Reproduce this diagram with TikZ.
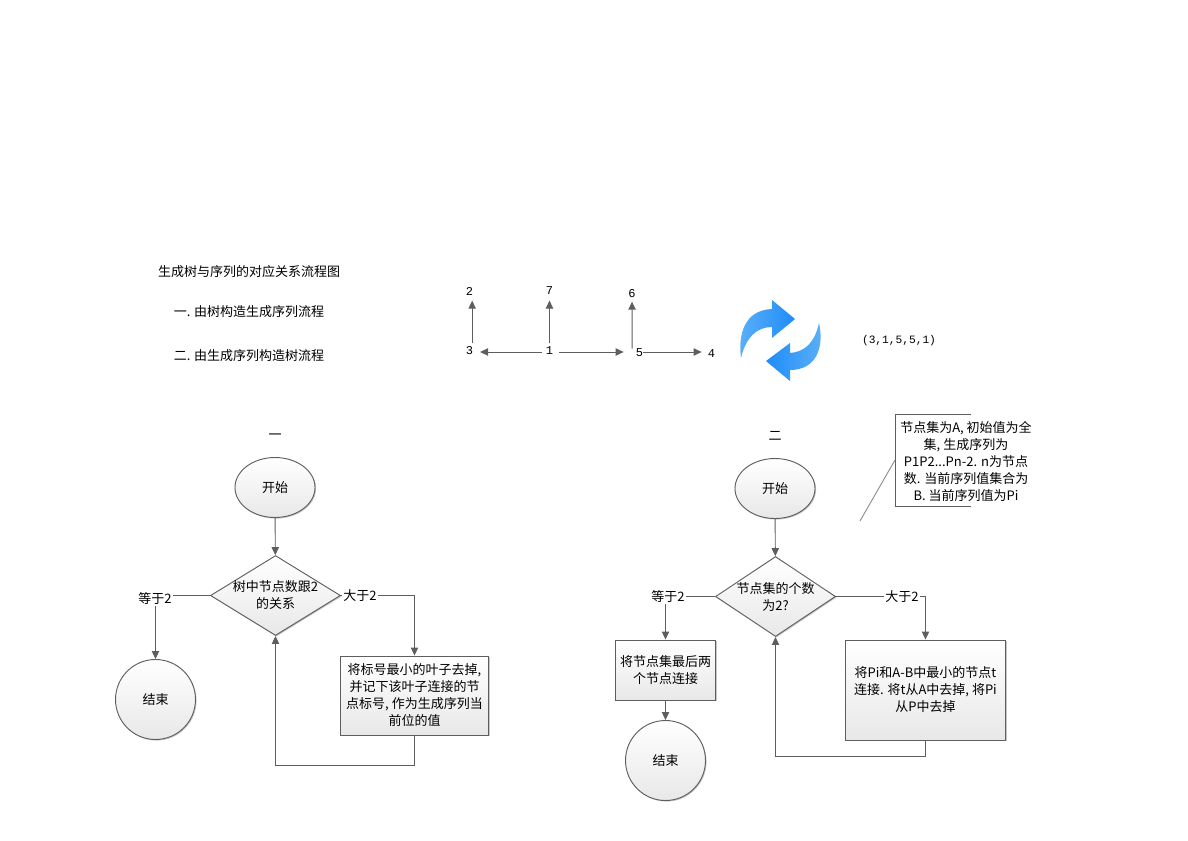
\documentclass[tikz,border=0pt]{standalone}
\usepackage{fontspec}
\setmainfont{Noto Sans CJK SC}
\setmonofont{Liberation Mono}
\definecolor{flowLine}{HTML}{5E5E5E}
\definecolor{flowShade}{HTML}{E8E8E8}
\definecolor{refreshDeep}{HTML}{1E8CFA}
\definecolor{refreshPale}{HTML}{5CB0F6}
\usetikzlibrary{arrows.meta}
\usetikzlibrary{shapes.geometric}
\usetikzlibrary{shadows}
\tikzset{
  plaintext/.style={inner sep=0pt, font=\fontsize{9.75}{12.75}\selectfont, align=center},
  treenum/.style={inner sep=1pt, font=\ttfamily\fontsize{9}{10}\selectfont},
  flowshape/.style={plaintext, draw=flowLine, line width=0.7pt, top color=white, bottom color=flowShade,
    general shadow={shadow xshift=0.8pt, shadow yshift=-0.8pt, fill=black!22}},
  terminal/.style={flowshape, ellipse, minimum width=60pt, minimum height=45pt},
  decision/.style={flowshape, diamond, aspect=1.5},
  process/.style={flowshape, rectangle},
  edgelabel/.style={plaintext, fill=white, inner xsep=1pt, inner ysep=1pt},
  flow/.style={draw=flowLine, line width=0.7pt, -{Triangle[length=6pt, width=5.5pt]}},
  link/.style={draw=flowLine, line width=0.7pt},
}
\begin{document}
\begin{tikzpicture}[x=0.75pt, y=-0.75pt]
  \useasboundingbox (0,0) rectangle (1188,840);

  % headings
  \node[plaintext] (title) at (249,271.5) {生成树与序列的对应关系流程图};
  \node[plaintext] (firstline) at (249,311.5) {一. 由树构造生成序列流程};
  \node[plaintext] (secondline) at (249,355.5) {二. 由生成序列构造树流程};
  \node[plaintext] (markone) at (275,437) {一};
  \node[plaintext] (marktwo) at (775,436) {二};

  % the tree
  \node[treenum] (n2) at (469.5,291) {2};
  \node[treenum] (n7) at (549.5,291) {7};
  \node[treenum] (n6) at (632,294) {6};
  \node[treenum] (n3) at (469.5,351) {3};
  \node[treenum] (n1) at (549.5,351) {1};
  \node[treenum] (n5) at (639.5,353) {5};
  \node[treenum] (n4) at (711.5,354) {4};
  \coordinate (treerow) at (0,352);
  \draw[flow] ([xshift=2pt, yshift=1.5pt]n3.north) -- ([xshift=2pt, yshift=-3pt]n2.south);
  \draw[flow] ([yshift=1.5pt]n1.north) -- ([yshift=-3pt]n7.south);
  \draw[flow] ([xshift=-5.5pt, yshift=-1pt]n5.north) -- ([yshift=-1.5pt]n6.south);
  \draw[flow] ([xshift=-2pt]n1.west |- treerow) -- ([xshift=4pt]n3.east |- treerow);
  \draw[flow] ([xshift=3pt]n1.east |- treerow) -- ([xshift=-8pt]n5.west |- treerow);
  \draw[flow] ([xshift=-1pt]n5.east |- treerow) -- ([xshift=-3.5pt]n4.west |- treerow);

  % the two turning arrows
  \path[left color=refreshPale, right color=refreshDeep] (741,358) .. controls (738,335) and (744,310) .. (772,309)
    -- (772,300) -- (795,319) -- (772,338) -- (772,327) .. controls (757,327) and (746,337) .. cycle;
  \path[left color=refreshDeep, right color=refreshPale] (819,323) .. controls (824,345) and (818,370) .. (790,370)
    -- (790,381) -- (766,361) -- (790,343) -- (790,353) .. controls (805,352) and (815,342) .. cycle;
  \node[treenum, font=\ttfamily\fontsize{8.4}{10}\selectfont] (sequence) at (899,341) {(3,1,5,5,1)};

  % flow one
  \node[terminal] (start1) at (275,487.5) {开始};
  \node[decision, minimum width=97.5pt, minimum height=60pt, label={[plaintext]center:树中节点数跟2\\的关系}] (test1) at (275.5,595.5) {};
  \node[terminal, circle, minimum size=60pt] (end1) at (155.5,699.5) {结束};
  \node[process, minimum width=111pt, minimum height=59.25pt] (step1) at (414.5,695.5) {将标号最小的叶子去掉,\\并记下该叶子连接的节\\点标号, 作为生成序列当\\前位的值};
  \draw[flow] (start1) -- (test1);
  \draw[flow] (test1.west) -| (end1.north);
  \draw[flow] (test1.east) -| (step1.north);
  \draw[flow] (step1.south) |- (275.5,765) -- (test1.south);
  \node[edgelabel] (equal1) at (155,599) {等于2};
  \node[edgelabel] (more1) at (360,596) {大于2};

  % flow two
  \node[terminal] (start2) at (775,488.5) {开始};
  \node[decision, minimum width=90pt, minimum height=60pt, label={[plaintext]center:节点集的个数\\为2?}] (test2) at (775.5,596.5) {};
  \node[process, minimum width=75pt, minimum height=45pt] (last2) at (665.5,670) {将节点集最后两\\个节点连接};
  \node[terminal, circle, minimum size=60pt] (end2) at (665.5,760.5) {结束};
  \node[process, minimum width=120pt, minimum height=75pt] (step2) at (925.5,690) {将Pi和A-B中最小的节点t\\连接. 将t从A中去掉, 将Pi\\从P中去掉};
  \draw[flow] (start2) -- (test2);
  \draw[flow] (test2.west) -| (last2.north);
  \draw[flow] (last2) -- (end2);
  \draw[flow] (test2.east) -| (step2.north);
  \draw[flow] (step2.south) |- (775.5,756) -- (test2.south);
  \node[edgelabel] (equal2) at (668,597) {等于2};
  \node[edgelabel] (more2) at (902,597) {大于2};

  % the note
  \node[plaintext] (note) at (966,461.5) {节点集为A, 初始值为全\\集, 生成序列为\\P1P2...Pn-2. n为节点\\数. 当前序列值集合为\\B. 当前序列值为Pi};
  \coordinate (notetop) at (971,414);
  \coordinate (notebottom) at (971,506);
  \coordinate (notefoot) at (860,521);
  \draw[link] (notetop) -- (895,414) -- (895,506) -- (notebottom);
  \draw[link, draw=flowLine!70] (895,460) -- (notefoot);
\end{tikzpicture}
\end{document}
